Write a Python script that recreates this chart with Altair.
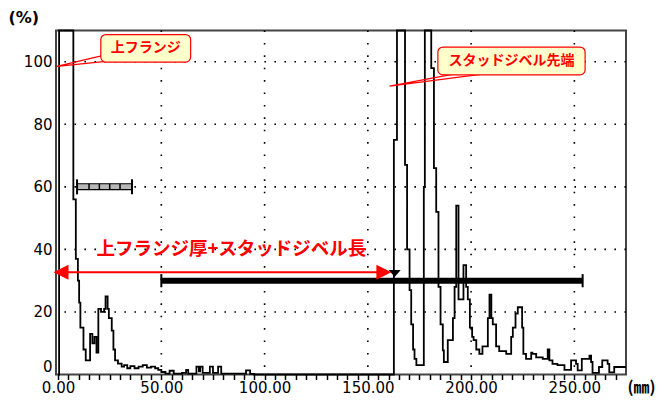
import altair as alt
import pandas as pd

# ---------------- data ----------------
wave_x = [0.0, 0.5, 7.4, 8.6, 9.6, 10.2, 10.8, 12.3, 13.4, 15.5, 16.6, 17.6, 18.6, 19.5,
          20.8, 22.3, 23.0, 24.0, 24.6, 26.0, 26.8, 27.6, 29.0, 30.8, 32.0, 33.5, 35.0,
          37.0, 39.0, 41.0, 43.0, 45.0, 47.0, 48.5, 50.0, 52.0, 54.0, 56.0, 60.0, 62.0,
          63.0, 66.0, 67.0, 68.2, 68.8, 70.0, 73.5, 75.0, 77.5, 79.0, 91.0, 93.0, 95.0,
          162.6, 164.1, 168.0, 169.0, 170.2, 171.0, 171.9, 172.6, 173.5, 177.1, 177.6,
          180.7, 182.0, 183.1, 184.2, 185.2, 186.3, 186.8, 188.7, 191.2, 192.0, 192.8,
          193.9, 196.3, 197.6, 198.4, 199.4, 200.5, 201.2, 202.5, 204.0, 205.5, 208.1,
          208.9, 209.8, 210.5, 212.1, 213.6, 217.0, 219.4, 220.2, 221.5, 222.6, 224.7,
          225.3, 226.6, 229.1, 229.7, 231.5, 234.7, 237.1, 237.9, 239.4, 241.8, 245.2,
          248.4, 250.8, 251.6, 253.6, 257.3, 258.1, 258.8, 261.9, 263.5, 266.1, 266.9,
          269.3, 275.0]
wave_y = [0, 110, 56, 37, 30, 23, 15, 8, 4.5, 13, 10, 12, 7, 21,
          20, 21, 25, 21, 18, 14, 8, 4.5, 3.5, 2.5, 3, 2, 2.7,
          2, 2.5, 3, 2.2, 2.5, 2, 1.5, 0.8, 0.3, 1.2, 0.3, 0.5, 1.5,
          0.3, 0.3, 2.5, 1, 2.5, 0.5, 2.5, 0.5, 2.5, 0.3, 1.3, 0.2, 0,
          75, 110, 67, 40, 27, 16, 8, 5, 3, 60, 110,
          98, 66, 52, 28, 16, 7.7, 4, 11, 18, 28, 54,
          24, 35, 28, 24, 15, 12, 11, 8, 6.6, 9, 18,
          25.5, 18, 16, 9, 7.5, 6.6, 12, 15, 19.5, 21.5, 15,
          6.6, 5, 7, 6.6, 5.5, 5, 8, 4.5, 3.4, 3, 1.5,
          4.5, 3.4, 1.3, 5, 6, 4, 0.5, 2.4, 4.5, 3.4, 0.7,
          2.4, 2.4]

grid_x = [50, 100, 150, 200, 250]
grid_y = [20, 40, 60, 80, 100]
x_ticks = list(range(5, 275, 5))
y_ticks = [0, 20, 40, 60, 80, 100]
x_labels = [0, 50, 100, 150, 200, 250]

gate_start, gate_end, gate_level = 50, 254, 30
ruler_start, ruler_end, ruler_level = 9.2, 35.8, 60
ruler_marks = [15, 20, 25, 30]

arrow_start, arrow_end, arrow_level = -2.2, 161.4, 32.7
arrow_label = "上フランジ厚+スタッドジベル長"
arrow_label_x, arrow_label_y = 83.9, 40.0

marker_x, marker_y = 163.0, 32.3

callout_texts = ["上フランジ", "スタッドジベル先端"]
callout_x1 = [20.7, 183.9]
callout_x2 = [64.2, 255.2]
callout_y1 = [99.9, 95.8]
callout_y2 = [108.7, 104.7]
callout_tip_x = [-0.6, 160.5]
callout_tip_y = [98.5, 92.2]
callout_base1_x = [21.5, 196.0]
callout_base1_y = [102.0, 96.6]
callout_base2_x = [25.5, 212.0]
callout_base2_y = [100.3, 96.6]

# ---------------- build tables ----------------
wave = pd.DataFrame({"x": wave_x, "y": wave_y})
gx = pd.DataFrame({"x": grid_x})
gy = pd.DataFrame({"y": grid_y})

XS = alt.Scale(domain=[-1, 275], nice=False, zero=False)
YS = alt.Scale(domain=[0, 110], nice=False, zero=False)
RED = "#ff0000"
JP = "Noto Sans CJK JP"

label_set = "[" + ",".join(str(v) for v in x_labels) + "]"
x_axis = alt.Axis(
    values=[0] + x_ticks,
    labelExpr="indexof(" + label_set + ", datum.value) >= 0 ? format(datum.value, '.2f') : ''",
    labelOverlap=False, labelFlush=False, labelBound=False, grid=False, domain=False,
    ticks=True, tickSize=5, tickWidth=1.5, tickColor="black",
    labelPadding=1, labelFont="DejaVu Sans", labelFontSize=15, labelColor="black",
    title="(㎜)", titleFont=JP, titleFontSize=16, titleFontWeight="bold", titleColor="black",
    titleX=585, titleY=13, titleAlign="center", titleBaseline="middle", titleAnchor="start",
)
y_axis = alt.Axis(
    values=y_ticks, grid=False, domain=False, ticks=False, tickSize=0,
    labelPadding=4, labelFlush=True, labelFont="DejaVu Sans", labelFontSize=15, labelColor="black",
    title="(%)", titleAngle=0, titleX=-48, titleY=-13, titleAlign="left", titleBaseline="middle",
    titleFont="DejaVu Sans", titleFontSize=16, titleFontWeight="bold", titleColor="black",
    titleAnchor="start",
)


def X(field="x"):
    return alt.X(field, type="quantitative", scale=XS, axis=x_axis)


def Y(field="y"):
    return alt.Y(field, type="quantitative", scale=YS, axis=y_axis)


line = alt.Chart(wave).mark_line(interpolate="step-after", color="black", strokeWidth=1.8).encode(
    x=X(), y=Y())

grid_v = alt.Chart(gx).mark_rule(color="black", strokeWidth=1.6, strokeDash=[1.6, 10.8]).encode(x=X())
grid_h = alt.Chart(gy).mark_rule(color="black", strokeWidth=1.6, strokeDash=[1.6, 8.4]).encode(y=Y())

# gate bar with end caps
gate = alt.Chart(pd.DataFrame({"x": [gate_start], "x2": [gate_end], "y": [gate_level]})).mark_rule(
    color="black", strokeWidth=6).encode(x=X(), x2="x2:Q", y=Y())
gate_caps = alt.Chart(pd.DataFrame({"x": [gate_start, gate_end],
                                    "y": [gate_level - 2.1] * 2, "y2": [gate_level + 2.1] * 2})).mark_rule(
    color="black", strokeWidth=2).encode(x=X(), y=Y(), y2="y2:Q")

# ruler bar
ruler = alt.Chart(pd.DataFrame({"x": [ruler_start], "x2": [ruler_end],
                                "y": [ruler_level - 0.9], "y2": [ruler_level + 1.0]})).mark_rect(
    fill="#b8b8b8", stroke="black", strokeWidth=1.2).encode(x=X(), x2="x2:Q", y=Y(), y2="y2:Q")
ruler_rungs = alt.Chart(pd.DataFrame({"x": ruler_marks, "y": [ruler_level - 0.9] * len(ruler_marks),
                                      "y2": [ruler_level + 1.0] * len(ruler_marks)})).mark_rule(
    color="black", strokeWidth=1.5).encode(x=X(), y=Y(), y2="y2:Q")
ruler_caps = alt.Chart(pd.DataFrame({"x": [ruler_start, ruler_end],
                                     "y": [ruler_level - 2.4] * 2, "y2": [ruler_level + 2.4] * 2})).mark_rule(
    color="black", strokeWidth=2).encode(x=X(), y=Y(), y2="y2:Q")

# red double arrow
arrow_line = alt.Chart(pd.DataFrame({"x": [arrow_start + 2], "x2": [arrow_end - 2], "y": [arrow_level]})).mark_rule(
    color=RED, strokeWidth=2).encode(x=X(), x2="x2:Q", y=Y())
head_l = alt.Chart(pd.DataFrame({"x": [arrow_start], "y": [arrow_level]})).mark_point(
    shape="M0,0L2,-1L2,1Z", filled=True, size=225, color=RED, opacity=1).encode(x=X(), y=Y())
head_r = alt.Chart(pd.DataFrame({"x": [arrow_end], "y": [arrow_level]})).mark_point(
    shape="M0,0L-2,-1L-2,1Z", filled=True, size=225, color=RED, opacity=1).encode(x=X(), y=Y())
arrow_text = alt.Chart(pd.DataFrame({"x": [arrow_label_x], "y": [arrow_label_y], "t": [arrow_label]})).mark_text(
    font=JP, fontSize=18.5, fontWeight="bold", color=RED, align="center", baseline="middle").encode(
    x=X(), y=Y(), text="t:N")

marker = alt.Chart(pd.DataFrame({"x": [marker_x], "y": [marker_y]})).mark_point(
    shape="M-1,-0.6L1,-0.6L0,0.6Z", filled=True, size=144, color="black", opacity=1).encode(x=X(), y=Y())

# callouts
tail_rows = []
for i in range(len(callout_texts)):
    tail_rows += [
        {"id": i, "k": 0, "x": callout_base1_x[i], "y": callout_base1_y[i]},
        {"id": i, "k": 1, "x": callout_tip_x[i], "y": callout_tip_y[i]},
        {"id": i, "k": 2, "x": callout_base2_x[i], "y": callout_base2_y[i]},
    ]
tails = alt.Chart(pd.DataFrame(tail_rows)).mark_line(color=RED, strokeWidth=1.3).encode(
    x=X(), y=Y(), detail="id:N", order="k:Q")
boxes_df = pd.DataFrame({"x": callout_x1, "x2": callout_x2, "y": callout_y1, "y2": callout_y2,
                         "t": callout_texts,
                         "cx": [(a + b) / 2 for a, b in zip(callout_x1, callout_x2)],
                         "cy": [(a + b) / 2 for a, b in zip(callout_y1, callout_y2)]})
boxes = alt.Chart(boxes_df).mark_rect(fill="#ffffcc", stroke=RED, strokeWidth=1.2, cornerRadius=5).encode(
    x=X(), x2="x2:Q", y=Y(), y2="y2:Q")
box_text = alt.Chart(boxes_df).mark_text(font=JP, fontSize=14, fontWeight="bold", color=RED,
                                         align="center", baseline="middle").encode(
    x=X("cx"), y=Y("cy"), text="t:N")

chart = alt.layer(
    line, grid_v, grid_h, gate, gate_caps, ruler, ruler_rungs, ruler_caps,
    arrow_line, head_l, head_r, arrow_text, marker, tails, boxes, box_text,
).properties(
    width=570, height=344,
    autosize=alt.AutoSizeParams(type="none"),
    padding={"left": 48, "top": 22.5, "right": 30, "bottom": 22},
    background="white",
).configure_view(stroke="#444444", strokeWidth=2).configure_axis(labelOverlap=False)

chart.save("out.html", embed_options={"renderer": "svg", "actions": False})
